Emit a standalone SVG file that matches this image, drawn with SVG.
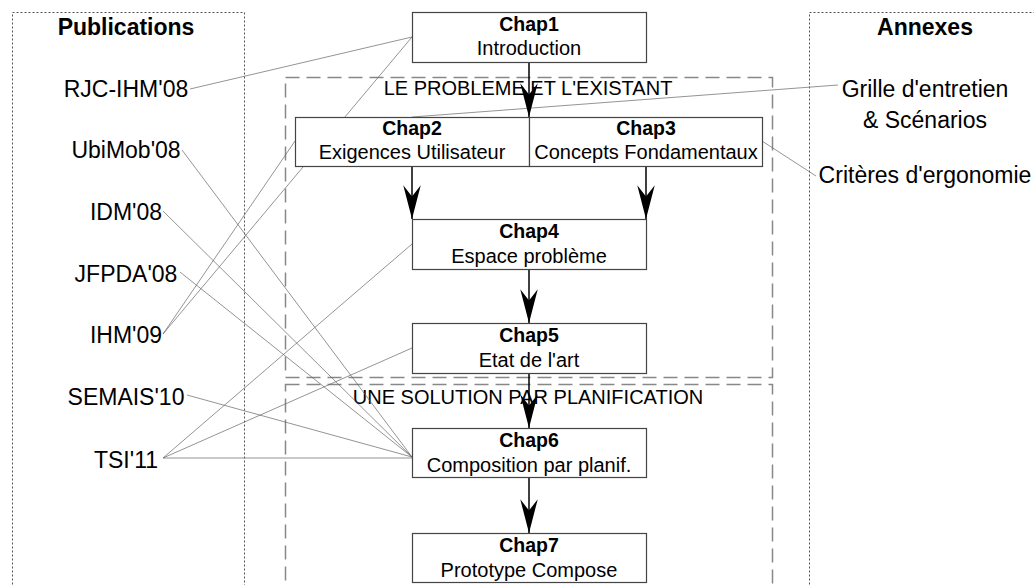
<svg xmlns="http://www.w3.org/2000/svg" width="1034" height="585" viewBox="0 0 1034 585">
<style>
.bg{fill:#fff}
.pane{fill:none;stroke:#555;stroke-width:1;stroke-dasharray:2 2}
.group{fill:none;stroke:#888;stroke-width:1.5;stroke-dasharray:14 7}
.box{fill:#fff;stroke:#444;stroke-width:1.2}
.t{font-family:"Liberation Sans",Arial,sans-serif;fill:#000;text-anchor:middle}
.ttl{font-size:23px;font-weight:bold}
.pub{font-size:23px}
.cb{font-size:19.5px;font-weight:bold}
.cs{font-size:20px}
.lbl{font-size:20px}
.ref{fill:none;stroke:#666;stroke-width:0.7}
.arr{fill:none;stroke:#000;stroke-width:1.5;marker-end:url(#ah)}
</style>
<defs>
<marker id="ah" markerUnits="userSpaceOnUse" orient="auto" refX="0" refY="0" markerWidth="40" markerHeight="40" viewBox="-30 -10 32 20" overflow="visible">
<path d="M0,0 L-27,-7 L-18,0 L-27,7 Z" fill="#000"/>
</marker>
</defs>
<rect class="bg" x="0" y="0" width="1034" height="585"/>
<g id="publications">
<rect class="pane" x="12.5" y="12.5" width="232" height="590"/>
<text class="t ttl" x="126" y="35">Publications</text>
</g>
<g id="annexes">
<rect class="pane" x="809.5" y="12.5" width="260" height="590"/>
<text class="t ttl" x="925" y="35">Annexes</text>
</g>
<g id="group-probleme">
<rect class="group" x="285.5" y="77.5" width="487" height="300"/>
<text class="t lbl" x="528" y="95">LE PROBLEME ET L'EXISTANT</text>
</g>
<g id="group-solution">
<rect class="group" x="285.5" y="384.5" width="487" height="220"/>
<text class="t lbl" x="528" y="404">UNE SOLUTION PAR PLANIFICATION</text>
</g>
<g id="connectors">
<line class="ref" x1="190" y1="89" x2="412" y2="37"/>
<line class="ref" x1="163" y1="334" x2="412" y2="37"/>
<line class="ref" x1="163" y1="334" x2="295" y2="141"/>
<line class="ref" x1="838" y1="85" x2="412" y2="117"/>
<line class="ref" x1="762" y1="141" x2="816" y2="176"/>
<line class="ref" x1="182" y1="150" x2="412" y2="457"/>
<line class="ref" x1="163" y1="211" x2="412" y2="457"/>
<line class="ref" x1="180" y1="272" x2="412" y2="457"/>
<line class="ref" x1="187" y1="395" x2="412" y2="457"/>
<line class="ref" x1="163" y1="458" x2="412" y2="458"/>
<line class="ref" x1="163" y1="458" x2="412" y2="348"/>
<line class="ref" x1="163" y1="458" x2="412" y2="244"/>
<path class="arr" d="M529,62 L529,117"/>
<path class="arr" d="M412,166 L412,219"/>
<path class="arr" d="M646,166 L646,219"/>
<path class="arr" d="M529,269 L529,323"/>
<path class="arr" d="M529,373 L529,428"/>
<path class="arr" d="M529,477 L529,533"/>
</g>
<g id="chap1">
<rect class="box" x="412.5" y="12.5" width="234" height="50"/>
<text class="t cb" x="529" y="31">Chap1</text>
<text class="t cs" x="529" y="55">Introduction</text>
</g>
<g id="chap2">
<rect class="box" x="295.5" y="117.5" width="234" height="49"/>
<text class="t cb" x="412" y="135">Chap2</text>
<text class="t cs" x="412" y="159">Exigences Utilisateur</text>
</g>
<g id="chap3">
<rect class="box" x="529.5" y="117.5" width="233" height="49"/>
<text class="t cb" x="646" y="135">Chap3</text>
<text class="t cs" x="646" y="159">Concepts Fondamentaux</text>
</g>
<g id="chap4">
<rect class="box" x="412.5" y="219.5" width="234" height="50"/>
<text class="t cb" x="529" y="238">Chap4</text>
<text class="t cs" x="529" y="263">Espace problème</text>
</g>
<g id="chap5">
<rect class="box" x="412.5" y="323.5" width="234" height="50"/>
<text class="t cb" x="529" y="342">Chap5</text>
<text class="t cs" x="529" y="367">Etat de l'art</text>
</g>
<g id="chap6">
<rect class="box" x="412.5" y="428.5" width="234" height="49"/>
<text class="t cb" x="529" y="447">Chap6</text>
<text class="t cs" x="529" y="472">Composition par planif.</text>
</g>
<g id="chap7">
<rect class="box" x="412.5" y="533.5" width="234" height="49"/>
<text class="t cb" x="529" y="552">Chap7</text>
<text class="t cs" x="529" y="577">Prototype Compose</text>
</g>
<g id="pub-rjc"><text class="t pub" x="126" y="97">RJC-IHM'08</text></g>
<g id="pub-ubimob"><text class="t pub" x="126" y="158">UbiMob'08</text></g>
<g id="pub-idm"><text class="t pub" x="126" y="220">IDM'08</text></g>
<g id="pub-jfpda"><text class="t pub" x="126" y="282">JFPDA'08</text></g>
<g id="pub-ihm"><text class="t pub" x="126" y="343">IHM'09</text></g>
<g id="pub-semais"><text class="t pub" x="126" y="405">SEMAIS'10</text></g>
<g id="pub-tsi"><text class="t pub" x="126" y="468">TSI'11</text></g>
<g id="annexe-grille">
<text class="t pub" x="925" y="97">Grille d'entretien</text>
<text class="t pub" x="925" y="128">&amp; Scénarios</text>
</g>
<g id="annexe-criteres"><text class="t pub" x="925" y="183">Critères d'ergonomie</text></g>
</svg>
